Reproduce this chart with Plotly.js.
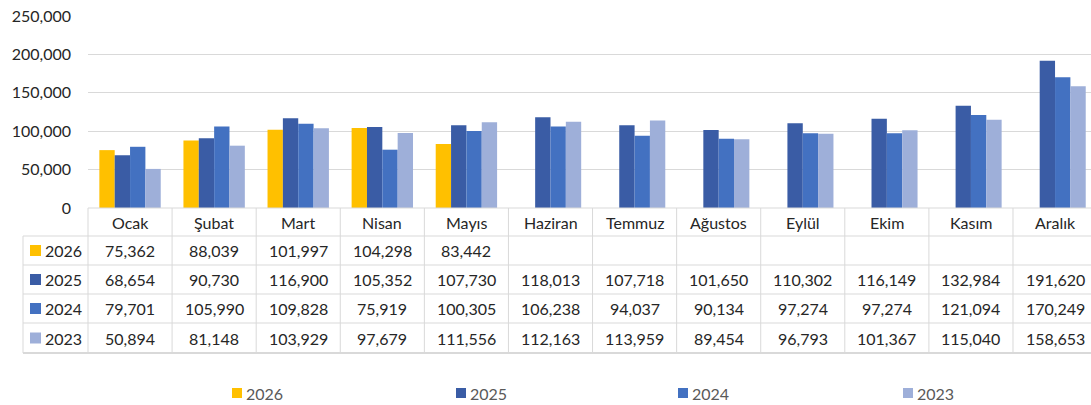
<!DOCTYPE html>
<html>
<head>
<meta charset="utf-8">
<script src="https://cdn.plot.ly/plotly-3.0.1.min.js"></script>
<style>
html,body{margin:0;padding:0;background:#fff;}
#chart{width:1091px;height:405px;}
</style>
</head>
<body>
<div id="chart"></div>
<script>
// ---- Data ----
const months = ["Ocak","Şubat","Mart","Nisan","Mayıs","Haziran","Temmuz","Ağustos","Eylül","Ekim","Kasım","Aralık"];
const seriesNames = ["2026","2025","2024","2023"];
const v2026 = [75362, 88039, 101997, 104298, 83442, null, null, null, null, null, null, null];
const v2025 = [68654, 90730, 116900, 105352, 107730, 118013, 107718, 101650, 110302, 116149, 132984, 191620];
const v2024 = [79701, 105990, 109828, 75919, 100305, 106238, 94037, 90134, 97274, 97274, 121094, 170249];
const v2023 = [50894, 81148, 103929, 97679, 111556, 112163, 113959, 89454, 96793, 101367, 115040, 158653];
const yTicks = [0, 50000, 100000, 150000, 200000, 250000];

// ---- Styles ----
const colors = ["#FFC000", "#3A5CA5", "#4371C1", "#9EAFD9"];
const values = [v2026, v2025, v2024, v2023];
const FONT = "Lato, 'Open Sans', sans-serif";
const TXT = "#262626";
const GRID = "#D9D9D9";

const W = 1091, H = 405;
const M = {l: 88, r: 0, t: 16, b: 197};
const plotW = W - M.l - M.r, plotH = H - M.t - M.b;
const catW = 84.09;
const xMax = -0.5 + plotW / catW;

function py(px) { return (H - M.b - px) / plotH; }   // pixel row -> paper y
function pxX(px) { return (px - M.l) / plotW; }      // pixel col -> paper x

const traces = seriesNames.map((n, i) => ({
  type: "bar",
  name: n,
  x: months,
  y: values[i],
  marker: {color: colors[i], line: {width: 0}},
  hoverinfo: "x+y+name"
}));

// ---- Table geometry (pixel rows) ----
const headerTop = 208, headerBot = 236;
const rowEdges = [236, 265, 294, 323, 353];
const tableLeft = 23;

const shapes = [];
const line = {color: GRID, width: 1};
// vertical column lines
for (let k = 1; k <= months.length; k++) {
  shapes.push({type: "line", xref: "x", yref: "paper", x0: k - 0.5, x1: k - 0.5,
    y0: py(headerTop), y1: py(rowEdges[rowEdges.length - 1]), line});
}
shapes.push({type: "line", xref: "paper", yref: "paper", x0: 0, x1: 0,
  y0: py(headerTop), y1: py(rowEdges[rowEdges.length - 1]), line});
shapes.push({type: "line", xref: "paper", yref: "paper", x0: pxX(tableLeft), x1: pxX(tableLeft),
  y0: py(rowEdges[0]), y1: py(rowEdges[rowEdges.length - 1]), line});
// horizontal lines
shapes.push({type: "line", xref: "paper", yref: "paper", x0: 0, x1: 1,
  y0: py(headerTop), y1: py(headerTop), line});
rowEdges.forEach((r, i) => {
  shapes.push({type: "line", xref: "paper", yref: "paper", x0: pxX(tableLeft), x1: 1,
    y0: py(r), y1: py(r), line: {color: GRID, width: i === rowEdges.length - 1 ? 2 : 1}});
});

const annotations = [];
// header months
months.forEach((m, j) => {
  annotations.push({xref: "x", yref: "paper", x: j, y: py((headerTop + headerBot) / 2),
    text: m, showarrow: false, xanchor: "center", yanchor: "middle",
    font: {family: FONT, size: 16, color: TXT}});
});
// rows
const fmt = v => v == null ? "" : v.toLocaleString("en-US");
seriesNames.forEach((n, i) => {
  const cy = (rowEdges[i] + rowEdges[i + 1]) / 2;
  // key square
  shapes.push({type: "rect", xref: "paper", yref: "paper",
    x0: pxX(30), x1: pxX(41), y0: py(cy - 5.5), y1: py(cy + 5.5),
    fillcolor: colors[i], line: {width: 0}});
  annotations.push({xref: "paper", yref: "paper", x: pxX(43), y: py(cy),
    text: n, showarrow: false, xanchor: "left", yanchor: "middle",
    font: {family: FONT, size: 16, color: TXT}});
  values[i].forEach((v, j) => {
    if (v == null) return;
    annotations.push({xref: "x", yref: "paper", x: j, y: py(cy),
      text: fmt(v), showarrow: false, xanchor: "center", yanchor: "middle",
      font: {family: FONT, size: 16, color: TXT}});
  });
});
// bottom legend
const legendX = [232, 456, 678, 903];
const legendY = 393;
seriesNames.forEach((n, i) => {
  shapes.push({type: "rect", xref: "paper", yref: "paper",
    x0: pxX(legendX[i]), x1: pxX(legendX[i] + 10), y0: py(legendY - 5), y1: py(legendY + 5),
    fillcolor: colors[i], line: {width: 0}});
  annotations.push({xref: "paper", yref: "paper", x: pxX(legendX[i] + 12), y: py(legendY),
    text: n, showarrow: false, xanchor: "left", yanchor: "middle",
    font: {family: FONT, size: 16, color: "#595959"}});
});

const layout = {
  width: W, height: H,
  margin: M,
  paper_bgcolor: "#fff", plot_bgcolor: "#fff",
  showlegend: false,
  barmode: "group",
  bargap: 0.27, bargroupgap: 0,
  font: {family: FONT, size: 16, color: TXT},
  xaxis: {type: "category", range: [-0.5, xMax], showticklabels: false, showgrid: false,
    zeroline: false, showline: false, ticks: "", fixedrange: true},
  yaxis: {range: [0, 250000], tickvals: yTicks, tickformat: ",d", showgrid: true,
    gridcolor: GRID, gridwidth: 1, zeroline: false, showline: false, ticks: "",
    ticklabelstandoff: 16, tickfont: {family: FONT, size: 16, color: TXT}, fixedrange: true},
  shapes, annotations
};

Plotly.newPlot("chart", traces, layout, {displayModeBar: false, staticPlot: true});
</script>
</body>
</html>
